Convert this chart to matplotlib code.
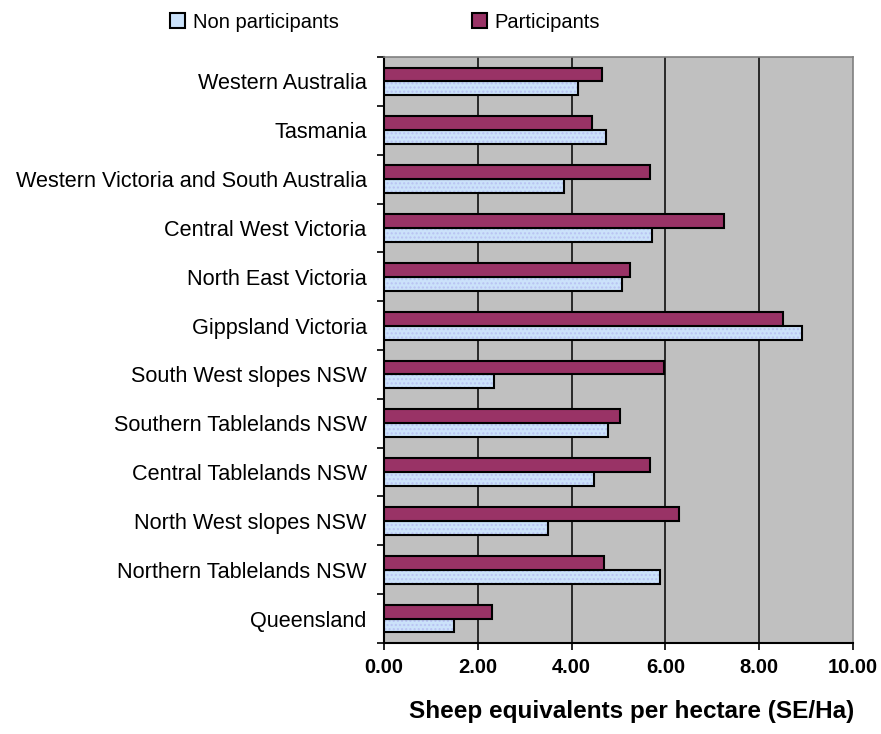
import numpy as np
import matplotlib.pyplot as plt
from matplotlib.ticker import FixedLocator

plt.rcParams['font.family'] = ['Liberation Sans', 'DejaVu Sans']

# regions from bottom to top
regions = ['Queensland', 'Northern Tablelands NSW', 'North West slopes NSW',
           'Central Tablelands NSW', 'Southern Tablelands NSW', 'South West slopes NSW',
           'Gippsland Victoria', 'North East Victoria', 'Central West Victoria',
           'Western Victoria and South Australia', 'Tasmania', 'Western Australia']
non_participants = [1.49, 5.89, 3.50, 4.48, 4.78, 2.35, 8.92, 5.07, 5.71, 3.84, 4.73, 4.14]
participants = [2.31, 4.69, 6.28, 5.68, 5.04, 5.96, 8.50, 5.25, 7.26, 5.68, 4.44, 4.65]
xticks = [0, 2, 4, 6, 8, 10]

c_part = '#993366'
c_non = '#CBE2FA'

fig = plt.figure(figsize=(8.81, 7.34), dpi=100)
ax = fig.add_axes([0.4359, 0.124, 0.5323, 0.7983])
ax.set_facecolor('#C0C0C0')

y = np.arange(len(regions))
h = 0.285

# speckled fill for non participants, then the black outline on top
ax.barh(y - h / 2, non_participants, height=h, color=c_non, edgecolor='#B9C2F2',
        hatch='....', linewidth=0, zorder=3)
ax.barh(y - h / 2, non_participants, height=h, color='none', edgecolor='black',
        linewidth=1.5, zorder=4)
ax.barh(y + h / 2, participants, height=h, color=c_part, edgecolor='black',
        linewidth=1.5, zorder=4)

ax.set_xlim(0, 10)
ax.set_ylim(-0.5, len(regions) - 0.5)
ax.set_xticks(xticks)
ax.set_xticklabels(['%.2f' % v for v in xticks], fontsize=14.5, fontweight='bold')
ax.tick_params(axis='x', length=5, width=1.2, pad=6)

# ticks between categories, labels at category centres
ax.yaxis.set_major_locator(FixedLocator(np.arange(-0.5, len(regions), 1.0)))
ax.yaxis.set_minor_locator(FixedLocator(y))
ax.set_yticklabels([], minor=False)
ax.set_yticklabels(regions, minor=True, fontsize=15.6)
ax.tick_params(axis='y', which='major', length=5, width=1.2)
ax.tick_params(axis='y', which='minor', length=0, pad=12.5)

for v in xticks[1:-1]:
    ax.axvline(v, color='black', linewidth=1.1, zorder=1)

for s in ['top', 'right']:
    ax.spines[s].set_color('#808080')
    ax.spines[s].set_linewidth(1.2)
for s in ['left', 'bottom']:
    ax.spines[s].set_color('black')
    ax.spines[s].set_linewidth(1.5)

ax.set_xlabel('Sheep equivalents per hectare (SE/Ha)', fontsize=17.5, fontweight='bold')
ax.xaxis.set_label_coords(0.529, -0.097)

handles = [plt.Rectangle((0, 0), 1, 1, facecolor=c_non, edgecolor='black', linewidth=1.5),
           plt.Rectangle((0, 0), 1, 1, facecolor=c_part, edgecolor='black', linewidth=1.5)]
fig.legend(handles, ['Non participants', 'Participants'], loc='center',
           bbox_to_anchor=(0.437, 0.97), ncol=2, frameon=False, fontsize=14.5,
           handlelength=0.75, handleheight=0.75, handletextpad=0.4, columnspacing=6.6)

fig.savefig('out.png', dpi=100)
